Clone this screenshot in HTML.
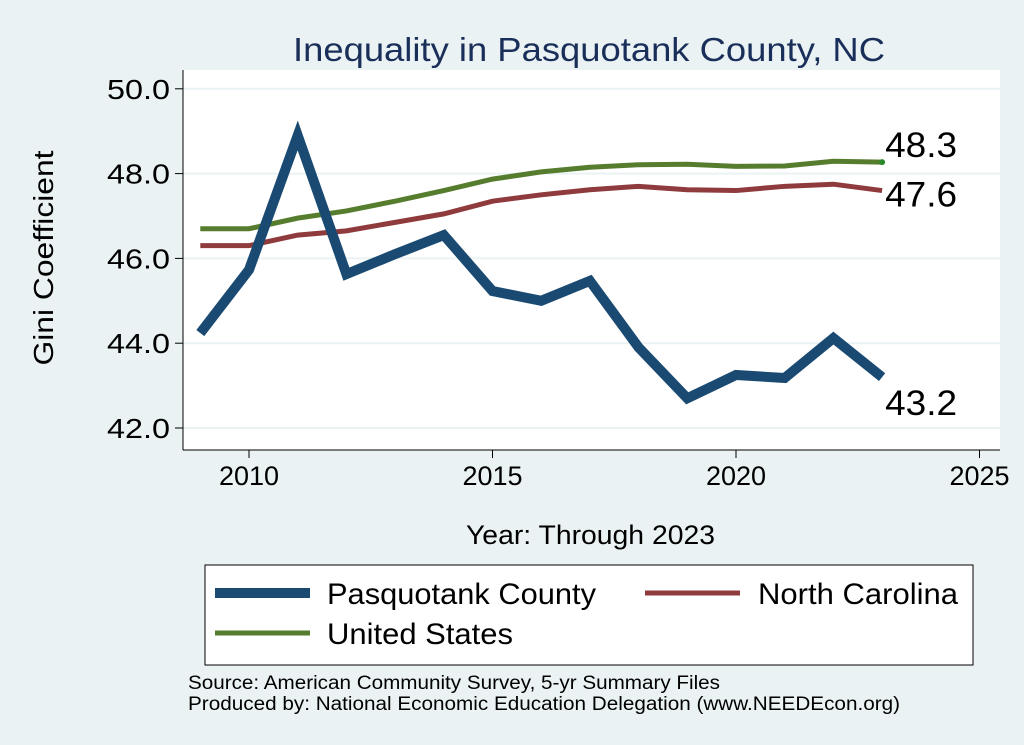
<!DOCTYPE html>
<html><head><meta charset="utf-8"><style>
body{margin:0;background:#eaf2f3;}
svg{display:block;font-family:"Liberation Sans",Arial,sans-serif;}
</style></head><body>
<svg id="chart" width="1024" height="745" viewBox="0 0 1024 745">
<rect x="0" y="0" width="1024" height="745" fill="#eaf2f3"/>
<rect x="183" y="70" width="817" height="380" fill="#ffffff"/>
<text x="293" y="61" font-size="33" fill="#1a2e5a" textLength="592" lengthAdjust="spacingAndGlyphs">Inequality in Pasquotank County, NC</text>
<g id="grid"></g>
<line x1="183" y1="70" x2="183" y2="450" stroke="#000" stroke-width="1"/>
<line x1="183" y1="450" x2="1000" y2="450" stroke="#000" stroke-width="1"/>
<g id="yticks"></g><g id="xticks"></g><g id="series"></g>
<text x="53" y="258" font-size="28" text-anchor="middle" textLength="215" lengthAdjust="spacingAndGlyphs" transform="rotate(-90 53 258)">Gini Coefficient</text>
<text x="466" y="544" font-size="27" textLength="249" lengthAdjust="spacingAndGlyphs">Year: Through 2023</text>
<g>
<rect x="205" y="565" width="768" height="100" fill="#fff" stroke="#000" stroke-width="1"/>
<line x1="215" y1="593" x2="310" y2="593" stroke="#1a4a72" stroke-width="10"/>
<text x="327" y="604" font-size="30" textLength="269" lengthAdjust="spacingAndGlyphs">Pasquotank County</text>
<line x1="645" y1="593" x2="740" y2="593" stroke="#8f3a3c" stroke-width="5"/>
<text x="758" y="604" font-size="30" textLength="200" lengthAdjust="spacingAndGlyphs">North Carolina</text>
<line x1="215" y1="633" x2="310" y2="633" stroke="#567d2e" stroke-width="5"/>
<text x="327" y="644" font-size="30" textLength="186" lengthAdjust="spacingAndGlyphs">United States</text>
</g>
<text x="188" y="689" font-size="19" textLength="532" lengthAdjust="spacingAndGlyphs">Source: American Community Survey, 5-yr Summary Files</text>
<text x="188" y="710" font-size="19" textLength="712" lengthAdjust="spacingAndGlyphs">Produced by: National Economic Education Delegation (www.NEEDEcon.org)</text>
</svg>
<script>
const years=[2009,2010,2011,2012,2013,2014,2015,2016,2017,2018,2019,2020,2021,2022,2023];
const pasquotank=[44.24,45.73,48.9,45.63,46.1,46.55,45.23,45.0,45.47,43.9,42.7,43.25,43.18,44.12,43.2];
const northCarolina=[46.3,46.3,46.55,46.65,46.85,47.05,47.35,47.5,47.62,47.7,47.62,47.6,47.7,47.75,47.6];
const unitedStates=[46.7,46.7,46.95,47.12,47.35,47.6,47.87,48.04,48.15,48.21,48.22,48.17,48.18,48.29,48.27];
const yTicks=[42,44,46,48,50];
const xTicks=[2010,2015,2020,2025];
const NS='http://www.w3.org/2000/svg';
function xs(v){return 249+(v-2010)*48.7;}
function ys(v){return 428-(v-42)*42.4;}
function mk(tag,attrs,parent){const e=document.createElementNS(NS,tag);for(const k in attrs)e.setAttribute(k,attrs[k]);document.getElementById(parent).appendChild(e);return e;}
yTicks.forEach(t=>{
 const g=mk('line',{x1:183,x2:1000,y1:ys(t),y2:ys(t),stroke:'#eaf2f3','stroke-width':2},'grid');
 
 
 const tk=mk('line',{x1:175,x2:183,y1:ys(t),y2:ys(t),stroke:'#000'},'yticks');
 
 
 const l=mk('text',{x:170,y:ys(t)+10,'font-size':28,'text-anchor':'end',textLength:63,lengthAdjust:'spacingAndGlyphs'},'yticks');
 l.textContent=t.toFixed(1);
 
 
});
xTicks.forEach(t=>{
 const tk=mk('line',{x1:xs(t),x2:xs(t),y1:450,y2:458,stroke:'#000'},'xticks');
 
 
 const l=mk('text',{x:xs(t),y:485,'font-size':27,'text-anchor':'middle'},'xticks');
 l.textContent=t;
 
 
});
function line(vals,color,w,name){
 const p=mk('polyline',{points:vals.map((v,i)=>xs(years[i])+','+ys(v)).join(' '),fill:'none',stroke:color,'stroke-width':w,'stroke-linejoin':'miter'},'series');
 
 
}
line(unitedStates,'#567d2e',5,'line-united-states');
line(northCarolina,'#8f3a3c',5,'line-north-carolina');
line(pasquotank,'#1a4a72',10,'line-pasquotank');
const n=years.length-1;
function lab(v,dy,name){
 const t=mk('text',{x:xs(years[n])+3,y:ys(v)+dy,'font-size':35,textLength:72,lengthAdjust:'spacingAndGlyphs'},'series');
 t.textContent=v.toFixed(1);
 
 
}
const d=mk('circle',{cx:xs(years[n]),cy:ys(unitedStates[n]),r:3,fill:'#2a8a2a'},'series');


lab(unitedStates[n],-5,'label-us-end');
lab(northCarolina[n],16,'label-nc-end');
lab(pasquotank[n],38,'label-pasquotank-end');
</script>
</body></html>
